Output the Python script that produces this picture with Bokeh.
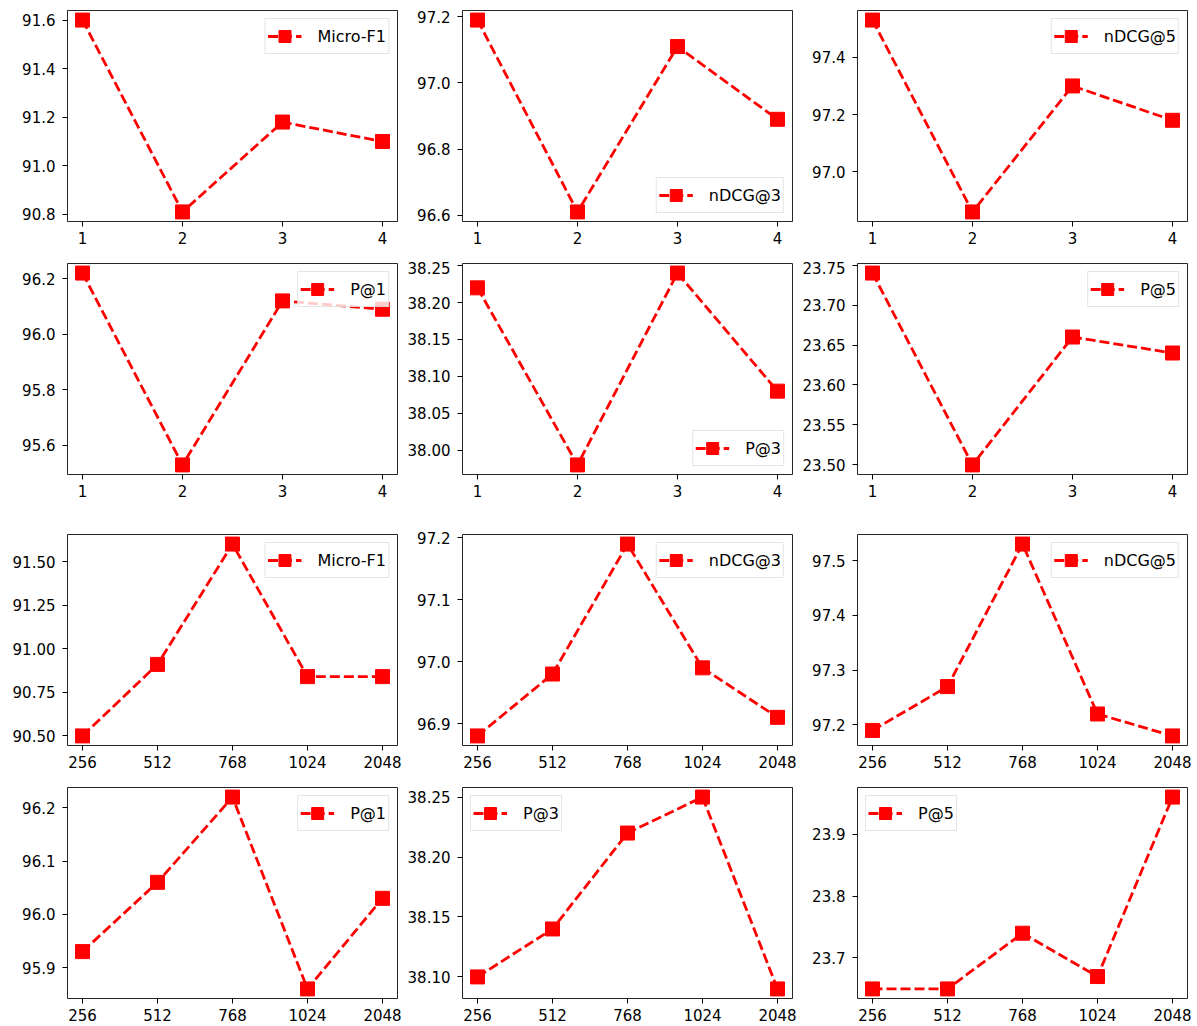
from bokeh.plotting import figure
from bokeh.layouts import column, row
from bokeh.models import FixedTicker, PrintfTickFormatter, Range1d
from bokeh.embed import file_html
from bokeh.resources import INLINE

# ---------------- data ----------------
layers = [1, 2, 3, 4]
dims = ["256", "512", "768", "1024", "2048"]

# top block: number of layers
layer_microf1 = [91.60, 90.81, 91.18, 91.10]
layer_ndcg3 = [97.19, 96.61, 97.11, 96.89]
layer_ndcg5 = [97.53, 96.86, 97.30, 97.18]
layer_p1 = [96.22, 95.53, 96.12, 96.09]
layer_p3 = [38.22, 37.98, 38.24, 38.08]
layer_p5 = [23.74, 23.50, 23.66, 23.64]

# bottom block: hidden dimension
dim_microf1 = [90.50, 90.91, 91.60, 90.84, 90.84]
dim_ndcg3 = [96.88, 96.98, 97.19, 96.99, 96.91]
dim_ndcg5 = [97.19, 97.27, 97.53, 97.22, 97.18]
dim_p1 = [95.93, 96.06, 96.22, 95.86, 96.03]
dim_p3 = [38.10, 38.14, 38.22, 38.25, 38.09]
dim_p5 = [23.65, 23.65, 23.74, 23.67, 23.96]

# y tick labels
t_layer_microf1 = [90.8, 91.0, 91.2, 91.4, 91.6]
t_layer_ndcg3 = [96.6, 96.8, 97.0, 97.2]
t_layer_ndcg5 = [97.0, 97.2, 97.4]
t_layer_p1 = [95.6, 95.8, 96.0, 96.2]
t_layer_p3 = [38.00, 38.05, 38.10, 38.15, 38.20, 38.25]
t_layer_p5 = [23.50, 23.55, 23.60, 23.65, 23.70, 23.75]
t_dim_microf1 = [90.50, 90.75, 91.00, 91.25, 91.50]
t_dim_ndcg3 = [96.9, 97.0, 97.1, 97.2]
t_dim_ndcg5 = [97.2, 97.3, 97.4, 97.5]
t_dim_p1 = [95.9, 96.0, 96.1, 96.2]
t_dim_p3 = [38.10, 38.15, 38.20, 38.25]
t_dim_p5 = [23.7, 23.8, 23.9]

FONT = "DejaVu Sans"


def panel(xs, ys, label, yticks, fmt, loc, xlabels=None, top=2, bottom=40,
          left=59, right=6):
    xpad = 0.05 * (max(xs) - min(xs))
    ypad = 0.05 * (max(ys) - min(ys))
    p = figure(frame_width=330, frame_height=211, output_backend="svg",
               toolbar_location=None,
               x_range=Range1d(min(xs) - xpad, max(xs) + xpad),
               y_range=Range1d(min(ys) - ypad, max(ys) + ypad),
               min_border_left=left, min_border_right=right,
               min_border_top=top, min_border_bottom=bottom)
    p.line(xs, ys, line_color="#ff0000", line_width=2.8, line_dash="10 4",
           legend_label=label)
    p.scatter(xs, ys, marker="square", size=14, fill_color="#ff0000",
              line_color="#ff0000", legend_label=label)
    p.xgrid.visible = False
    p.ygrid.visible = False
    p.outline_line_color = "black"
    p.outline_line_width = 1
    p.outline_line_alpha = 0.85
    for ax in (p.xaxis[0], p.yaxis[0]):
        ax.axis_line_color = None
        ax.major_tick_line_color = "black"
        ax.major_tick_in = 0
        ax.major_tick_out = 5
        ax.minor_tick_line_color = None
        ax.major_label_text_font = FONT
        ax.major_label_text_font_size = "15px"
        ax.major_label_text_color = "black"
    p.yaxis[0].major_label_standoff = 7
    p.xaxis[0].major_label_standoff = 5
    p.yaxis[0].ticker = FixedTicker(ticks=yticks)
    p.yaxis[0].formatter = PrintfTickFormatter(format=fmt)
    p.xaxis[0].ticker = FixedTicker(ticks=list(xs))
    if xlabels is not None:
        p.xaxis[0].major_label_overrides = {i: lab for i, lab in zip(xs, xlabels)}
    leg = p.legend[0]
    leg.location = loc
    leg.margin = 8
    leg.padding = 2
    leg.spacing = 0
    leg.glyph_width = 34
    leg.glyph_height = 30
    leg.label_standoff = 16
    leg.label_text_font = FONT
    leg.label_text_font_size = "16px"
    leg.label_text_color = "black"
    leg.border_line_color = "#cccccc"
    leg.border_line_width = 1
    leg.background_fill_alpha = 0.8
    return p


idx = list(range(len(dims)))

p1 = panel(layers, layer_microf1, "Micro-F1", t_layer_microf1, "%.1f", "top_right", top=10, left=67)
p2 = panel(layers, layer_ndcg3, "nDCG@3", t_layer_ndcg3, "%.1f", "bottom_right", top=10)
p3 = panel(layers, layer_ndcg5, "nDCG@5", t_layer_ndcg5, "%.1f", "top_right", top=10, right=8)
p4 = panel(layers, layer_p1, "P@1", t_layer_p1, "%.1f", "top_right", left=67)
p5 = panel(layers, layer_p3, "P@3", t_layer_p3, "%.2f", "bottom_right")
p6 = panel(layers, layer_p5, "P@5", t_layer_p5, "%.2f", "top_right", right=8)

p7 = panel(idx, dim_microf1, "Micro-F1", t_dim_microf1, "%.2f", "top_right", xlabels=dims, top=20, left=67)
p8 = panel(idx, dim_ndcg3, "nDCG@3", t_dim_ndcg3, "%.1f", "top_right", xlabels=dims, top=20)
p9 = panel(idx, dim_ndcg5, "nDCG@5", t_dim_ndcg5, "%.1f", "top_right", xlabels=dims, top=20, right=8)
p10 = panel(idx, dim_p1, "P@1", t_dim_p1, "%.1f", "top_right", xlabels=dims, bottom=20, left=67)
p11 = panel(idx, dim_p3, "P@3", t_dim_p3, "%.2f", "top_left", xlabels=dims, bottom=20)
p12 = panel(idx, dim_p5, "P@5", t_dim_p5, "%.1f", "top_left", xlabels=dims, bottom=20, right=8)

layout = column(row(p1, p2, p3), row(p4, p5, p6), row(p7, p8, p9), row(p10, p11, p12))

open("out.html", "w").write(file_html(layout, INLINE))
